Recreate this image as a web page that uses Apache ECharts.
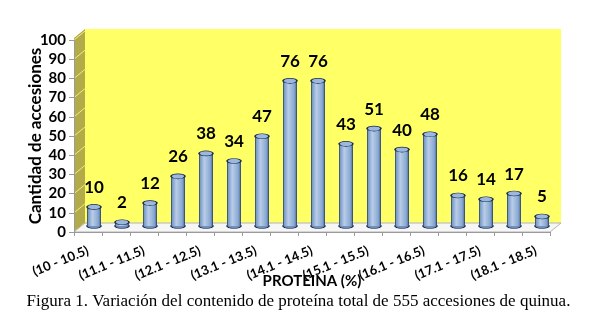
<!DOCTYPE html>
<html>
<head>
<meta charset="utf-8">
<script src="https://cdn.jsdelivr.net/npm/echarts@6/dist/echarts.min.js"></script>
<style>
  html, body { margin: 0; padding: 0; background: #fff; }
  #myChart { width: 597px; height: 324px; }
</style>
</head>
<body>
<div id="myChart"></div>
<script>
// rangos de proteína (%) y número de accesiones
const categories = [
  '(10 - 10.5)', '(10.6 - 11)', '(11.1 - 11.5)', '(11.6 - 12)', '(12.1 - 12.5)',
  '(12.6 - 13)', '(13.1 - 13.5)', '(13.6 - 14)', '(14.1 - 14.5)', '(14.6 - 15)',
  '(15.1 - 15.5)', '(15.6 - 16)', '(16.1 - 16.5)', '(16.6 - 17)', '(17.1 - 17.5)',
  '(17.6 - 18)', '(18.1 - 18.5)'
];
const accesiones = [10, 2, 12, 26, 38, 34, 47, 76, 76, 43, 51, 40, 48, 16, 14, 17, 5];
const yTicks = [0, 10, 20, 30, 40, 50, 60, 70, 80, 90, 100];

// caja 3D: frente (ejes) y fondo desplazado
const front = { left: 74, right: 550, top: 40, bottom: 232 };
const depth = { dx: 11, dy: 9 };

const font = 'Lato, "Open Sans", sans-serif';

const cylinder = {
  type: 'linear', x: 0, y: 0, x2: 1, y2: 0,
  colorStops: [
    { offset: 0, color: '#22355a' },
    { offset: 0.1, color: '#7b9bc8' },
    { offset: 0.38, color: '#b9cde8' },
    { offset: 0.8, color: '#8aa8d2' },
    { offset: 0.92, color: '#5f7fae' },
    { offset: 1, color: '#22355a' }
  ]
};

// paredes y piso (decoración)
const wallLines = yTicks.map(t => {
  const y = front.bottom - (t / 100) * (front.bottom - front.top);
  return {
    type: 'line', silent: true, z: -9,
    shape: { x1: front.left, y1: y, x2: front.left + depth.dx, y2: y - depth.dy },
    style: { stroke: '#f2ee70', lineWidth: 1 }
  };
});

const graphic = [
  {
    type: 'polygon', silent: true, z: -10,
    shape: { points: [
      [front.left, front.bottom], [front.left, front.top - 2],
      [front.left + depth.dx, front.top - 2 - depth.dy], [front.left + depth.dx, front.bottom - depth.dy]
    ] },
    style: { fill: '#b3aa4a' }
  },
  {
    type: 'polygon', silent: true, z: -8,
    shape: { points: [
      [front.left, front.bottom], [front.right, front.bottom],
      [front.right + depth.dx, front.bottom - depth.dy], [front.left + depth.dx, front.bottom - depth.dy]
    ] },
    style: { fill: '#f6f6f6', stroke: '#b4b4b4', lineWidth: 1 }
  }
].concat(wallLines);

const option = {
  animation: false,
  title: {
    text: 'Figura 1. Variación del contenido de proteína total de 555 accesiones de quinua.',
    left: 'center',
    top: 288,
    textStyle: { fontFamily: '"Liberation Serif", "Times New Roman", serif', fontSize: 17, fontWeight: 'normal', color: '#000' }
  },
  graphic: graphic,
  grid: [
    // ejes frontales
    { left: front.left, top: front.top, width: front.right - front.left, height: front.bottom - front.top },
    // barras (desplazadas hacia el fondo)
    { left: front.left + 6, top: front.top - 5, width: front.right - front.left, height: front.bottom - front.top - 1 },
    // pared del fondo
    {
      left: front.left + depth.dx, top: front.top - 2 - depth.dy,
      width: front.right - front.left, height: front.bottom - front.top + 2,
      show: true, backgroundColor: '#ffff66', borderWidth: 0, z: -20
    }
  ],
  xAxis: [
    {
      type: 'category', gridIndex: 0, data: categories,
      name: 'PROTEINA (%)', nameLocation: 'middle', nameGap: 42, nameMoveOverlap: false,
      nameTextStyle: { fontFamily: font, fontWeight: 'bold', fontSize: 15, color: '#000' },
      axisLine: { lineStyle: { color: '#9a9a9a' } },
      axisTick: { show: true, interval: 0, length: 4, lineStyle: { color: '#9a9a9a' } },
      axisLabel: { interval: 1, rotate: 22, fontFamily: font, fontWeight: 'bold', fontSize: 13, color: '#000', margin: 18 }
    },
    { type: 'category', gridIndex: 1, data: categories, show: false },
    { type: 'category', gridIndex: 2, data: categories, show: false }
  ],
  yAxis: [
    {
      type: 'value', gridIndex: 0, min: 0, max: 100, interval: 10,
      name: 'Cantidad de accesiones', nameLocation: 'middle', nameGap: 30, nameMoveOverlap: false,
      nameTextStyle: { fontFamily: font, fontWeight: 'bold', fontSize: 17, color: '#000' },
      axisLine: { show: true, lineStyle: { color: '#9a9a9a' } },
      axisTick: { show: true, length: 5, lineStyle: { color: '#9a9a9a' } },
      axisLabel: { fontFamily: font, fontWeight: 'bold', fontSize: 15, color: '#000', margin: 8 },
      splitLine: { show: false }
    },
    { type: 'value', gridIndex: 1, min: 0, max: 100, show: false, splitLine: { show: false } },
    { type: 'value', gridIndex: 2, min: 0, max: 100, show: false, splitLine: { show: false } }
  ],
  series: [
    {
      // base del cilindro
      type: 'scatter', xAxisIndex: 1, yAxisIndex: 1,
      data: accesiones.map(() => 0),
      symbol: 'circle', symbolSize: [14, 5], z: 2, silent: true,
      itemStyle: { color: '#6f8fbc', borderColor: '#1c2c4c', borderWidth: 1, opacity: 1 }
    },
    {
      name: 'Accesiones', type: 'bar', xAxisIndex: 1, yAxisIndex: 1,
      data: accesiones, barWidth: 14, z: 3,
      itemStyle: { color: cylinder },
      label: {
        show: true, position: 'top', distance: 11,
        fontFamily: font, fontWeight: 'bold', fontSize: 17, color: '#000'
      }
    },
    {
      // tapa del cilindro
      type: 'scatter', xAxisIndex: 1, yAxisIndex: 1,
      data: accesiones, symbol: 'circle', symbolSize: [14, 5], z: 4, silent: true,
      itemStyle: { color: '#9db8de', borderColor: '#1c2c4c', borderWidth: 1, opacity: 1 }
    }
  ]
};

const myChart = echarts.init(document.getElementById('myChart'));
myChart.setOption(option, true);
</script>
</body>
</html>
